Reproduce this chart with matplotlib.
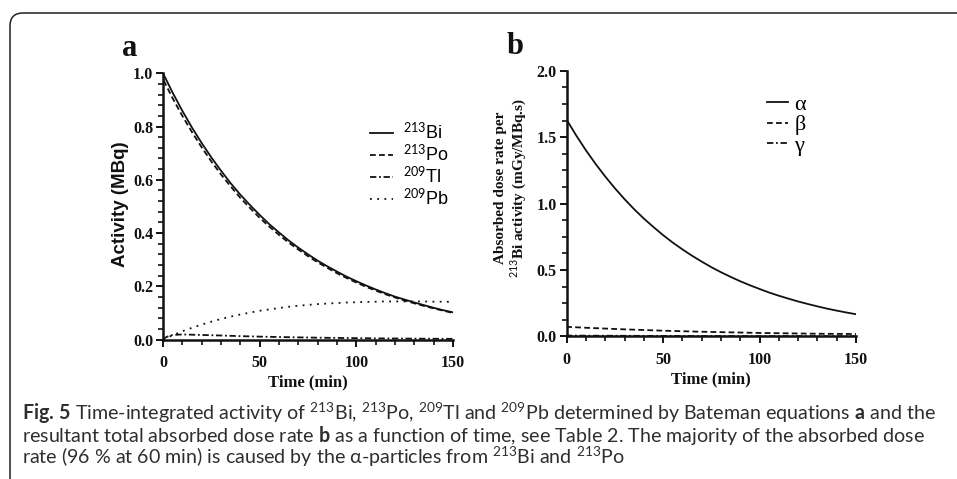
import matplotlib
matplotlib.use("Agg")
import matplotlib.pyplot as plt
from matplotlib.patches import FancyBboxPatch
from matplotlib.transforms import IdentityTransform
from matplotlib.ticker import MultipleLocator, FormatStrFormatter

# ---------------- data ----------------
time_min = [0, 5, 10, 15, 20, 25, 30, 35, 40, 45, 50, 55, 60, 65, 70, 75,
            80, 85, 90, 95, 100, 105, 110, 115, 120, 125, 130, 135, 140, 145, 150]

bi213 = [1.000, 0.927, 0.859, 0.796, 0.738, 0.684, 0.634, 0.587, 0.544, 0.505,
         0.468, 0.433, 0.402, 0.372, 0.345, 0.320, 0.296, 0.275, 0.255, 0.236,
         0.219, 0.203, 0.188, 0.174, 0.161, 0.150, 0.139, 0.129, 0.119, 0.110, 0.102]

po213_time = [0, 0, 5, 10, 15, 20, 25, 30, 35, 40, 45, 50, 55, 60, 65, 70, 75,
              80, 85, 90, 95, 100, 105, 110, 115, 120, 125, 130, 135, 140, 145, 150]
po213 = [0.000, 0.978, 0.906, 0.840, 0.779, 0.722, 0.669, 0.620, 0.575, 0.532,
         0.494, 0.457, 0.424, 0.393, 0.364, 0.338, 0.313, 0.290, 0.269, 0.249,
         0.231, 0.214, 0.198, 0.184, 0.170, 0.158, 0.146, 0.136, 0.126, 0.117,
         0.108, 0.100]

tl209_time = [0, 1, 2, 3, 5, 10, 15, 20, 30, 40, 50, 60, 70, 80, 90, 100,
              110, 120, 130, 140, 150]
tl209 = [0.000, 0.006, 0.010, 0.013, 0.017, 0.019, 0.018, 0.017, 0.015, 0.0126,
         0.0108, 0.0093, 0.0080, 0.0068, 0.0059, 0.0051, 0.0043, 0.0037, 0.0032,
         0.0028, 0.0024]

pb209 = [0.000, 0.016, 0.031, 0.044, 0.056, 0.067, 0.077, 0.086, 0.094, 0.101,
         0.108, 0.113, 0.118, 0.123, 0.127, 0.130, 0.133, 0.135, 0.137, 0.139,
         0.140, 0.141, 0.142, 0.143, 0.143, 0.143, 0.143, 0.143, 0.142, 0.142, 0.141]

dose_time = [0, 0, 5, 10, 15, 20, 25, 30, 35, 40, 45, 50, 55, 60, 65, 70, 75,
             80, 85, 90, 95, 100, 105, 110, 115, 120, 125, 130, 135, 140, 145, 150]
dose_alpha = [0.000, 1.630, 1.511, 1.400, 1.298, 1.203, 1.115, 1.033, 0.957, 0.887,
              0.823, 0.762, 0.706, 0.655, 0.607, 0.563, 0.521, 0.483, 0.448, 0.415,
              0.385, 0.357, 0.330, 0.306, 0.284, 0.263, 0.244, 0.226, 0.209, 0.194,
              0.180, 0.167]

time10 = [0, 0, 10, 20, 30, 40, 50, 60, 70, 80, 90, 100, 110, 120, 130, 140, 150]
dose_beta = [0.000, 0.072, 0.065, 0.059, 0.053, 0.048, 0.043, 0.039, 0.035, 0.032,
             0.029, 0.026, 0.024, 0.022, 0.020, 0.019, 0.018]
dose_gamma = [0.000, 0.006, 0.0055, 0.005, 0.0045, 0.004, 0.0036, 0.0032, 0.0029,
              0.0026, 0.0023, 0.0021, 0.0019, 0.0017, 0.0015, 0.0014, 0.0012]

labels_a = [r"$^{213}$Bi", r"$^{213}$Po", r"$^{209}$Tl", r"$^{209}$Pb"]
labels_b = ["α", "β", "γ"]
xticks = [0, 50, 100, 150]

caption_lines = [
    r"$\bf{Fig.\,5}$ Time-integrated activity of $^{213}$Bi, $^{213}$Po, $^{209}$Tl and $^{209}$Pb determined by Bateman equations $\bf{a}$ and the",
    r"resultant total absorbed dose rate $\bf{b}$ as a function of time, see Table 2. The majority of the absorbed dose",
    r"rate (96 % at 60 min) is caused by the α-particles from $^{213}$Bi and $^{213}$Po",
]

# ---------------- style ----------------
CAP = "Lato"
plt.rcParams["mathtext.fontset"] = "custom"
plt.rcParams["mathtext.rm"] = CAP
plt.rcParams["mathtext.it"] = CAP + ":italic"
plt.rcParams["mathtext.bf"] = CAP + ":bold"

W, H = 957, 479
fig = plt.figure(figsize=(W / 100, H / 100), dpi=100)
fig.patch.set_facecolor("white")

SERIF = "Liberation Serif"
SANS = "Liberation Sans"
LINE = "#111111"


def px_ax(l, r, b, t):
    return [l / W, 1 - b / H, (r - l) / W, (b - t) / H]


axa = fig.add_axes(px_ax(163, 453, 339.5, 73.3))
axb = fig.add_axes(px_ax(566.7, 856, 336.4, 70.7))

for ax in (axa, axb):
    for s in ("top", "right"):
        ax.spines[s].set_visible(False)
    for s in ("left", "bottom"):
        ax.spines[s].set_linewidth(1.8)
        ax.spines[s].set_color(LINE)
    ax.set_xlim(0, 150)
    ax.set_xticks(xticks)
    ax.xaxis.set_minor_locator(MultipleLocator(10))
    ax.tick_params(which="major", length=5, width=1.4, color=LINE, pad=2)
    ax.tick_params(which="minor", length=3.5, width=1.2, color=LINE)
    ax.tick_params(axis="x", which="major", pad=6)
    ax.patch.set_alpha(0)

# panel a
axa.plot(time_min, bi213, color=LINE, lw=1.3, ls="-", label=labels_a[0])
axa.plot(po213_time, po213, color=LINE, lw=1.3, ls=(0, (3.2, 1.8)), label=labels_a[1])
axa.plot(tl209_time, tl209, color=LINE, lw=1.3, ls=(0, (3.5, 1.5, 1, 1.5)), label=labels_a[2])
axa.plot(time_min, pb209, color=LINE, lw=1.3, ls=(0, (1, 3)), label=labels_a[3])
axa.set_ylim(0, 1.0)
axa.set_yticks([0, 0.2, 0.4, 0.6, 0.8, 1.0])
axa.yaxis.set_minor_locator(MultipleLocator(0.04))
axa.yaxis.set_major_formatter(FormatStrFormatter("%.1f"))

# panel b
axb.plot(dose_time, dose_alpha, color=LINE, lw=1.3, ls="-", label=labels_b[0])
axb.plot(time10, dose_beta, color=LINE, lw=1.3, ls=(0, (3.2, 1.8)), label=labels_b[1])
axb.plot(time10, dose_gamma, color=LINE, lw=1.3, ls=(0, (3.5, 1.5, 1, 1.5)), label=labels_b[2])
axb.set_ylim(0, 2.0)
axb.set_yticks([0, 0.5, 1.0, 1.5, 2.0])
axb.yaxis.set_minor_locator(MultipleLocator(0.125))
axb.yaxis.set_major_formatter(FormatStrFormatter("%.1f"))

for ax in (axa, axb):
    for lab in ax.get_xticklabels() + ax.get_yticklabels():
        lab.set_fontfamily(SERIF)
        lab.set_fontweight("bold")
        lab.set_fontsize(11.5)
        lab.set_color(LINE)
    ax.set_xlabel("Time (min)", fontfamily=SERIF, fontweight="bold", fontsize=12, color=LINE)
    ax.xaxis.set_label_coords(0.5, -0.13)

axa.set_ylabel("Activity (MBq)", fontfamily=SANS, fontweight="bold", fontsize=13.5,
               color=LINE, va="center")
axa.yaxis.set_label_coords(-0.148, 0.51)

axb.set_ylabel("Absorbed dose rate per\n" + r"$^{213}$Bi activity (mGy/MBq.s)",
               fontfamily=SERIF, fontweight="bold", fontsize=11, color=LINE,
               va="center", linespacing=1.15)
axb.yaxis.set_label_coords(-0.19, 0.56)

axa.legend(loc="upper left", bbox_to_anchor=(0.69, 0.845), frameon=False,
           prop={"family": SANS, "size": 13}, handlelength=1.25,
           handletextpad=0.55, labelspacing=0.05, borderaxespad=0)
axb.legend(loc="upper left", bbox_to_anchor=(0.66, 0.945), frameon=False,
           prop={"family": SERIF, "size": 16}, handlelength=0.95,
           handletextpad=0.3, labelspacing=0.0, borderaxespad=0)

# panel letters
fig.text(130 / W, 1 - 48 / H, "a", fontfamily=SERIF, fontweight="bold",
         fontsize=22, ha="center", va="center", color=LINE)
fig.text(515 / W, 1 - 46 / H, "b", fontfamily=SERIF, fontweight="bold",
         fontsize=22, ha="center", va="center", color=LINE)

# border (rounded, open towards right and bottom)
box = FancyBboxPatch((10, -40), 1000, (H - 13) + 40,
                     boxstyle="round,pad=0,rounding_size=13",
                     transform=IdentityTransform(), fill=False,
                     edgecolor="#222222", linewidth=1.1, clip_on=False)
fig.patches.append(box)

# caption
baselines = [420, 442, 464]
cap_texts = []
for line, yb in zip(caption_lines, baselines):
    t = fig.text(22 / W, 1 - yb / H, line, fontfamily=CAP, fontsize=11,
                 ha="left", va="baseline", color="#2e2e2e")
    cap_texts.append(t)

fig.canvas.draw()
r = fig.canvas.get_renderer()
w0 = cap_texts[0].get_window_extent(r).width
size = 11 * (938 - 22) / w0
for t in cap_texts:
    t.set_fontsize(size)

fig.savefig("out.png", dpi=100)
